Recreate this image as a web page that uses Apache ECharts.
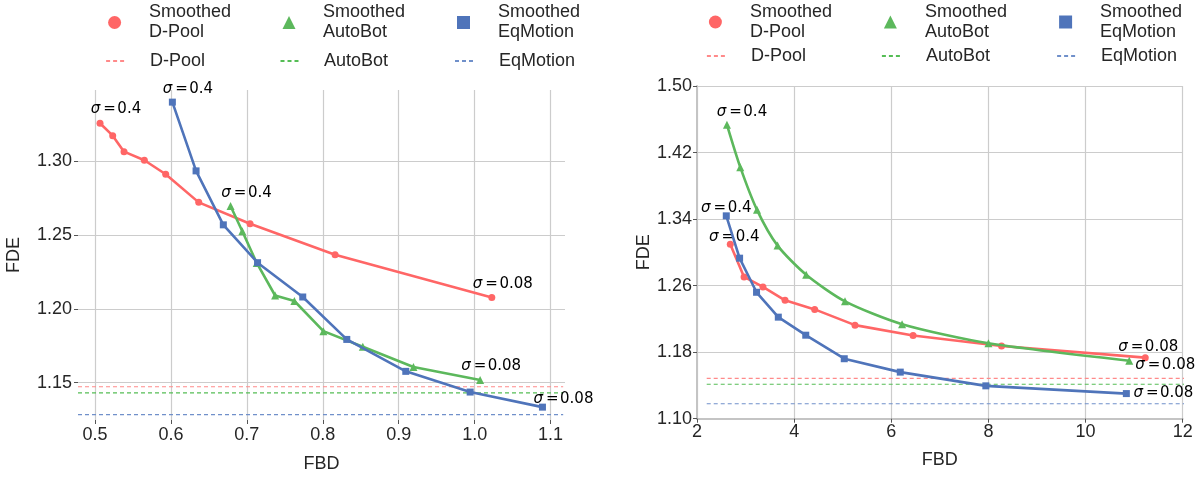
<!DOCTYPE html>
<html><head><meta charset="utf-8">
<script src="https://cdn.jsdelivr.net/npm/echarts@6/dist/echarts.min.js"></script>
<style>html,body{margin:0;padding:0;background:#fff}#c{width:1199px;height:478px}</style>
</head><body><div id="c"></div><script>
// ---------- data ----------
const methodNames = ['D-Pool', 'AutoBot', 'EqMotion'];
const sigmaLabels = ['0.4', '0.08'];

// left panel
const leftDPoolX    = [0.5066, 0.5233, 0.5382, 0.5650, 0.5931, 0.6366, 0.7042, 0.8162, 1.0226];
const leftDPoolY    = [1.3255, 1.3171, 1.3063, 1.3005, 1.2910, 1.2720, 1.2575, 1.2366, 1.2076];
const leftAutoBotX  = [0.6785, 0.6940, 0.7130, 0.7372, 0.7626, 0.8008, 0.8527, 0.9194, 1.0072];
const leftAutoBotY  = [1.2695, 1.2525, 1.2310, 1.2090, 1.2053, 1.1849, 1.1743, 1.1607, 1.1518];
const leftEqMotionX = [0.6019, 0.6331, 0.6690, 0.7141, 0.7736, 0.8316, 0.9093, 0.9941, 1.0893];
const leftEqMotionY = [1.3398, 1.2933, 1.2568, 1.2312, 1.2080, 1.1793, 1.1577, 1.1437, 1.1335];
const leftBaselines = [1.1473, 1.1432, 1.1284];
const leftBaselineSpan = [0.4776, 1.1166];
const leftXRange = [0.4776, 1.119];
const leftYRange = [1.1248, 1.348];
const leftXTicks = [0.5, 0.6, 0.7, 0.8, 0.9, 1.0, 1.1];
const leftYTicks = [1.15, 1.20, 1.25, 1.30];

// right panel
const rightDPoolX    = [2.685, 2.969, 3.358, 3.813, 4.423, 5.253, 6.449, 8.270, 11.229];
const rightDPoolY    = [1.3098, 1.2705, 1.2584, 1.2423, 1.2314, 1.2125, 1.2000, 1.1875, 1.1734];
const rightAutoBotX  = [2.617, 2.891, 3.235, 3.659, 4.248, 5.047, 6.222, 8.000, 10.900];
const rightAutoBotY  = [1.4533, 1.4024, 1.3511, 1.3081, 1.2731, 1.2411, 1.2137, 1.1907, 1.1697];
const rightEqMotionX = [2.603, 2.877, 3.226, 3.674, 4.239, 5.032, 6.185, 7.947, 10.840];
const rightEqMotionY = [1.3439, 1.2930, 1.2520, 1.2221, 1.2004, 1.1721, 1.1560, 1.1395, 1.1302];
const rightBaselines = [1.1486, 1.1414, 1.1180];
const rightBaselineSpan = [2.2, 12.2];
const rightXRange = [2, 12];
const rightYRange = [1.10, 1.50];
const rightXTicks = [2, 4, 6, 8, 10, 12];
const rightYTicks = [1.10, 1.18, 1.26, 1.34, 1.42, 1.50];

// ---------- style ----------
const FONT = 'Liberation Sans, Arial, sans-serif';
const TXT = '#262626';
const COLORS = ['#FF6666', '#5CB85C', '#4F74BA'];
const DASH = ['#FF8A8A', '#55BD55', '#7090CA'];
const SYMBOLS = ['circle', 'triangle', 'rect'];
const SYMSIZE = [7, 8, 7];
const GRIDC = '#cccccc';

function zip(xs, ys) { return xs.map((x, i) => [x, ys[i]]); }

function curve(k, xs, ys, gi, offs, smooth) {
  const n = xs.length;
  const data = zip(xs, ys).map((p, i) => {
    const item = { value: p };
    if (i === 0 || i === n - 1) {
      item.label = {
        show: true, position: 'inside',
        offset: i === 0 ? offs[0] : offs[1],
        formatter: '{i|σ}\u2009=\u200a' + (i === 0 ? sigmaLabels[0] : sigmaLabels[1]),
        color: '#000', fontSize: 15, fontFamily: 'DejaVu Sans',
        rich: { i: { fontStyle: 'italic', fontSize: 15, fontFamily: 'DejaVu Sans', color: '#000' } }
      };
    }
    return item;
  });
  return {
    type: 'line', name: 'Smoothed ' + methodNames[k], xAxisIndex: gi, yAxisIndex: gi,
    data, symbol: SYMBOLS[k], symbolSize: SYMSIZE[k], smooth: smooth || false,
    lineStyle: { color: COLORS[k], width: 2.6 }, itemStyle: { color: COLORS[k] },
    emphasis: { disabled: true }, z: 3 + k, animation: false
  };
}

function baseline(k, val, span, gi) {
  return {
    type: 'line', name: methodNames[k], xAxisIndex: gi, yAxisIndex: gi,
    data: [[span[0], val], [span[1], val]], symbol: 'none', clip: false, silent: true,
    lineStyle: { color: DASH[k], width: 1.2, type: [4, 3] }, itemStyle: { color: DASH[k] },
    emphasis: { disabled: true }, z: 2, animation: false
  };
}

function xAxis(gi, range, ticks, dec, opts) {
  return {
    type: 'value', gridIndex: gi, min: range[0], max: range[1],
    name: 'FBD', nameLocation: 'middle', nameGap: opts.nameGap,
    nameTextStyle: { fontSize: 18, fontFamily: FONT, color: TXT },
    axisLine: opts.axisLine,
    axisTick: { show: true, customValues: ticks, length: 4, lineStyle: { color: '#555', width: 1 } },
    axisLabel: { customValues: ticks, formatter: v => v.toFixed(dec), fontSize: 18, fontFamily: FONT, color: TXT, margin: opts.margin },
    splitLine: { show: true, lineStyle: { color: GRIDC, width: 1.2 } }
  };
}
function yAxis(gi, range, ticks, opts) {
  return {
    type: 'value', gridIndex: gi, min: range[0], max: range[1],
    name: 'FDE', nameLocation: 'middle', nameGap: opts.nameGap, nameRotate: 90,
    nameTextStyle: { fontSize: 18, fontFamily: FONT, color: TXT },
    axisLine: opts.axisLine,
    axisTick: { show: true, customValues: ticks, length: 4, lineStyle: { color: '#555', width: 1 } },
    axisLabel: { customValues: ticks, formatter: v => v.toFixed(2), fontSize: 18, fontFamily: FONT, color: TXT, margin: opts.margin },
    splitLine: { show: true, lineStyle: { color: GRIDC, width: 1.2 } }
  };
}

// legend items placed individually
const legends = [];
function legendMarker(k, cx, cy, textX) {
  legends.push({
    data: [{ name: 'Smoothed ' + methodNames[k], icon: SYMBOLS[k] }],
    left: cx - 6.5, top: cy - 20, padding: 0, itemWidth: 13, itemHeight: 13, selectedMode: false,
    formatter: n => n.replace('Smoothed ', 'Smoothed\n'),
    textStyle: { fontSize: 18, fontFamily: FONT, color: TXT, lineHeight: 20, padding: [0, 0, 0, textX - cx - 11.5] }
  });
}
function legendLine(k, cx, cy, textX) {
  legends.push({
    data: [{ name: methodNames[k] }],
    left: cx - 9.5, top: cy - 10, padding: 0, itemWidth: 19, itemHeight: 14, selectedMode: false,
    itemStyle: { opacity: 0 },
    textStyle: { fontSize: 18, fontFamily: FONT, color: TXT, lineHeight: 20, padding: [0, 0, 0, textX - cx - 14.5] }
  });
}
const leftColX = [114.6, 289, 463.5], leftTextX = [149, 323, 498];
const rightColX = [715.4, 890.4, 1065.6], rightTextX = [750, 925, 1100];
for (let k = 0; k < 3; k++) {
  legendMarker(k, leftColX[k], 22.5, leftTextX[k]);
  legendLine(k, leftColX[k], 61, leftTextX[k]);
  legendMarker(k, rightColX[k], 22, rightTextX[k]);
  legendLine(k, rightColX[k], 56, rightTextX[k]);
}

const series = [
  curve(0, leftDPoolX, leftDPoolY, 0, [[16, -14], [11, -13]]),
  curve(1, leftAutoBotX, leftAutoBotY, 0, [[16, -13], [11, -14]]),
  curve(2, leftEqMotionX, leftEqMotionY, 0, [[15.5, -13], [21, -8]]),
  curve(0, rightDPoolX, rightDPoolY, 1, [[4, -7], [3, -11]]),
  curve(1, rightAutoBotX, rightAutoBotY, 1, [[15, -13], [36, 4]], 0.25),
  curve(2, rightEqMotionX, rightEqMotionY, 1, [[0, -8], [37, 0]]),
];
for (let k = 0; k < 3; k++) {
  series.push(baseline(k, leftBaselines[k], leftBaselineSpan, 0));
  series.push(baseline(k, rightBaselines[k], rightBaselineSpan, 1));
}

const chart = echarts.init(document.getElementById('c'));
chart.setOption({
  backgroundColor: '#fff',
  animation: false,
  legend: legends,
  grid: [
    { left: 78, right: 634, top: 90, bottom: 57, containLabel: false },
    { left: 697, right: 16.3, top: 86, bottom: 59.3, containLabel: false }
  ],
  xAxis: [
    xAxis(0, leftXRange, leftXTicks, 1, { nameGap: 35, margin: 6, axisLine: { show: false } }),
    xAxis(1, rightXRange, rightXTicks, 0, { nameGap: 32, margin: 4, axisLine: { show: true, lineStyle: { color: '#c4c4c4', width: 2 } } })
  ],
  yAxis: [
    yAxis(0, leftYRange, leftYTicks, { nameGap: 55, margin: 6, axisLine: { show: false } }),
    yAxis(1, rightYRange, rightYTicks, { nameGap: 40, margin: 5, axisLine: { show: true, lineStyle: { color: '#c4c4c4', width: 2 } } })
  ],
  series
});
</script></body></html>
